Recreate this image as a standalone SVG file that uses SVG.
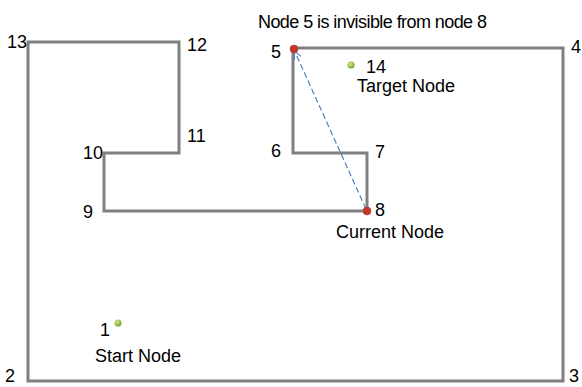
<svg xmlns="http://www.w3.org/2000/svg" width="582" height="387" viewBox="0 0 582 387">
<style>
text{font-family:"Liberation Sans",Arial,sans-serif;font-size:18px;fill:#000}
.wall{fill:none;stroke:#808080;stroke-width:3;stroke-linejoin:miter}
.red{fill:#c0392b;stroke:#a33;stroke-width:0.5}
.green{fill:url(#gg)}
.los{stroke:#4f81bd;stroke-width:1.2;stroke-dasharray:6,3;fill:none}
</style>
<defs>
<radialGradient id="gg" cx="0.4" cy="0.35" r="0.7">
<stop offset="0" stop-color="#d4ee8a"/>
<stop offset="1" stop-color="#6a9a1f"/>
</radialGradient>
<marker id="arr" viewBox="0 0 10 10" refX="9" refY="5" markerWidth="8" markerHeight="8" markerUnits="userSpaceOnUse" orient="auto">
<path d="M0,0 L10,5 L0,10" fill="none" stroke="#4f81bd" stroke-width="1.2"/>
</marker>
</defs>
<text x="258" y="28" textLength="229" lengthAdjust="spacing">Node 5 is invisible from node 8</text>
<g id="connectors">
<polygon class="wall" points="28,42 179,42 179,153 104,153 104,211 367,211 367,153 293,153 293,48 563,48 563,381 28,381"/>
<line class="los" x1="366" y1="209" x2="295" y2="52" marker-end="url(#arr)"/>
</g>
<g id="node1"><circle class="green" cx="118" cy="323" r="3.5"/><text x="100" y="336">1</text><text x="95" y="362">Start Node</text></g>
<g id="node2"><text x="5" y="382">2</text></g>
<g id="node3"><text x="569" y="382">3</text></g>
<g id="node4"><text x="571" y="53">4</text></g>
<g id="node5"><circle class="red" cx="294" cy="49" r="4"/><text x="271" y="58">5</text></g>
<g id="node6"><text x="271" y="157">6</text></g>
<g id="node7"><text x="375" y="158">7</text></g>
<g id="node8"><circle class="red" cx="367" cy="211" r="4"/><text x="375" y="216">8</text><text x="336" y="238">Current Node</text></g>
<g id="node9"><text x="83" y="218">9</text></g>
<g id="node10"><text x="83" y="159">10</text></g>
<g id="node11"><text x="187" y="142">11</text></g>
<g id="node12"><text x="187" y="51">12</text></g>
<g id="node13"><text x="7" y="48">13</text></g>
<g id="node14"><circle class="green" cx="351" cy="65" r="3.5"/><text x="366" y="73">14</text><text x="357" y="92">Target Node</text></g>
</svg>
